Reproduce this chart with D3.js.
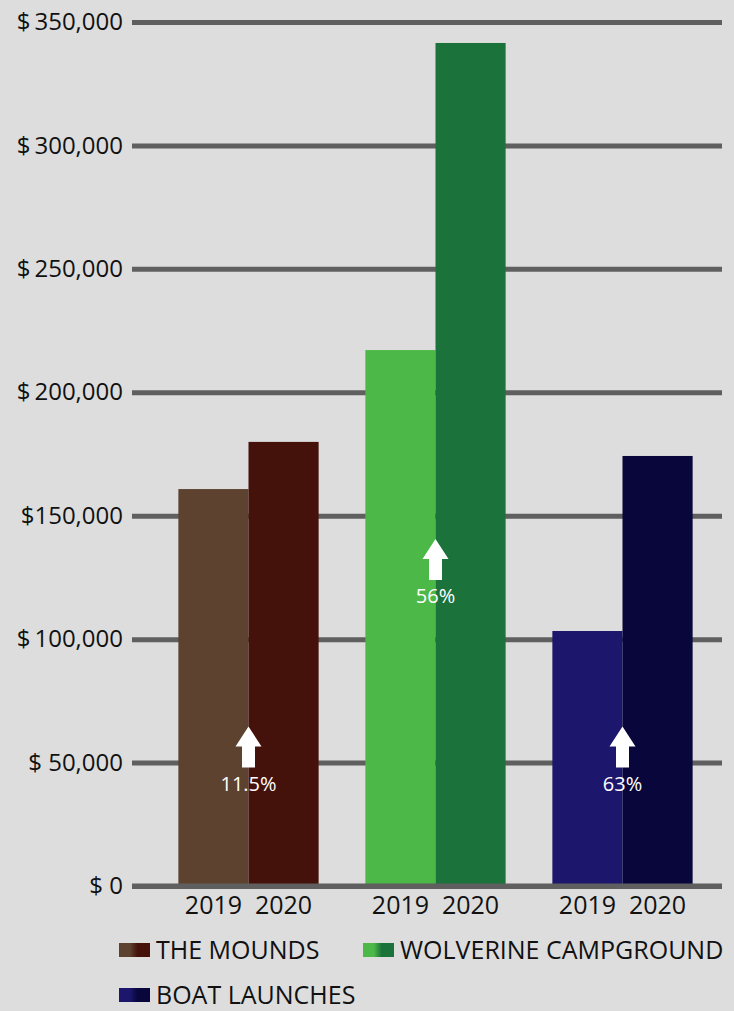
<!DOCTYPE html>
<html>
<head>
<meta charset="utf-8">
<script src="https://cdn.jsdelivr.net/npm/d3@7"></script>
<style>
  body { margin: 0; background: #dddddd; }
  svg { display: block; font-family: "Open Sans", "DejaVu Sans", sans-serif; }
  .legend-label { font-size: 25px; fill: #111; }
  .pct-label { font-size: 20px; fill: #fff; }
</style>
</head>
<body>
<div id="chart"></div>
<script>
// data
const sites = ["THE MOUNDS", "WOLVERINE CAMPGROUND", "BOAT LAUNCHES"];
const years = ["2019", "2020"];
const revenue2019 = [160800, 217100, 103300];
const revenue2020 = [179900, 341500, 174200];
const changeLabels = ["11.5%", "56%", "63%"];
const arrowBase = [48000, 124000, 48000];   // where each arrow sits, in dollars
const tickValues = [0, 50000, 100000, 150000, 200000, 250000, 300000, 350000];
const tickLabels = ["$ 0", "$ 50,000", "$\u2009100,000", "$150,000", "$\u2009200,000", "$\u2009250,000", "$\u2009300,000", "$\u2009350,000"];

const colors2019 = ["#5d4230", "#4cb848", "#1c176d"];
const colors2020 = ["#44120a", "#1b733b", "#08063b"];

const W = 734, H = 1011;

const svg = d3.select("#chart")
  .append("svg")
  .attr("width", W)
  .attr("height", H);

svg.append("rect").attr("width", W).attr("height", H).attr("fill", "#dddddd");

// scales
const y = d3.scaleLinear().domain([0, 350000]).range([886, 22]);

const x0 = d3.scaleBand()
  .domain(sites)
  .range([155, 716])
  .paddingInner(0.25)
  .paddingOuter(0.125);

const x1 = d3.scaleBand().domain(years).range([0, x0.bandwidth()]).padding(0);

const gridLeft = 132, gridRight = 722;

// y axis with grid lines
const yAxis = svg.append("g")
  .attr("transform", `translate(${gridLeft},0)`)
  .call(
    d3.axisLeft(y)
      .tickValues(tickValues)
      .tickSizeInner(-(gridRight - gridLeft))
      .tickSizeOuter(0)
      .tickPadding(9)
      .tickFormat((d, i) => tickLabels[i])
  );
yAxis.select(".domain").remove();
yAxis.selectAll(".tick line").attr("stroke", "#5f5f5f").attr("stroke-width", 5);
yAxis.selectAll(".tick text")
  .attr("fill", "#111")
  .style("font-size", "24px")
  .style("font-family", "'Open Sans', sans-serif");

// bars
const rows = sites.map((s, i) => ({
  site: s,
  vals: [
    { year: "2019", value: revenue2019[i], color: colors2019[i] },
    { year: "2020", value: revenue2020[i], color: colors2020[i] },
  ],
}));

const groups = svg.selectAll(".site")
  .data(rows)
  .enter()
  .append("g")
  .attr("class", "site")
  .attr("transform", (d) => `translate(${x0(d.site)},0)`);

groups.selectAll("rect")
  .data((d) => d.vals)
  .enter()
  .append("rect")
  .attr("x", (d) => x1(d.year))
  .attr("width", x1.bandwidth())
  .attr("y", (d) => y(d.value))
  .attr("height", (d) => y(0) - y(d.value))
  .attr("fill", (d) => d.color);

// zero line sits over the bars
svg.append("line")
  .attr("x1", gridLeft)
  .attr("x2", gridRight)
  .attr("y1", y(0))
  .attr("y2", y(0))
  .attr("stroke", "#5f5f5f")
  .attr("stroke-width", 5);

// year labels under every group
groups.each(function () {
  const g = d3.select(this).append("g")
    .attr("transform", `translate(0,${y(0)})`)
    .call(d3.axisBottom(x1).tickSize(0).tickPadding(10));
  g.select(".domain").remove();
  g.selectAll("text")
    .attr("fill", "#111")
    .style("font-size", "25px")
    .style("font-family", "'Open Sans', sans-serif");
});

// arrows + percentage change
const arrow = "M0,0 L13,20 L6.5,20 L6.5,41 L-6.5,41 L-6.5,20 L-13,20 Z";
rows.forEach((d, i) => {
  const cx = x0(d.site) + x0.bandwidth() / 2;
  const bottom = y(arrowBase[i]);
  svg.append("path")
    .attr("d", arrow)
    .attr("transform", `translate(${cx},${bottom - 41})`)
    .attr("fill", "#ffffff");
  svg.append("text")
    .attr("class", "pct-label")
    .attr("x", cx)
    .attr("y", bottom + 23)
    .attr("text-anchor", "middle")
    .text(changeLabels[i]);
});

// legend
const defs = svg.append("defs");
sites.forEach((s, i) => {
  const grad = defs.append("linearGradient").attr("id", "lg" + i);
  grad.append("stop").attr("offset", "0%").attr("stop-color", colors2019[i]);
  grad.append("stop").attr("offset", "35%").attr("stop-color", colors2019[i]);
  grad.append("stop").attr("offset", "60%").attr("stop-color", colors2020[i]);
  grad.append("stop").attr("offset", "100%").attr("stop-color", colors2020[i]);
});

const legendPos = [
  { x: 119, y: 950 },
  { x: 363, y: 950 },
  { x: 119, y: 995 },
];

const legend = svg.selectAll(".legend")
  .data(sites)
  .enter()
  .append("g")
  .attr("class", "legend")
  .attr("transform", (d, i) => `translate(${legendPos[i].x},${legendPos[i].y})`);

legend.append("rect")
  .attr("x", 0)
  .attr("y", -7)
  .attr("width", 31)
  .attr("height", 14)
  .attr("fill", (d, i) => `url(#lg${i})`);

legend.append("text")
  .attr("class", "legend-label")
  .attr("x", 37)
  .attr("y", 0)
  .attr("dy", "0.36em")
  .text((d) => d);
</script>
</body>
</html>
